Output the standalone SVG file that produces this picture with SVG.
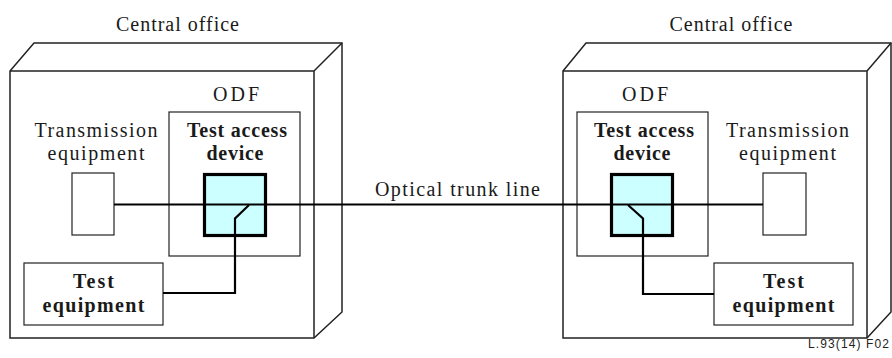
<svg xmlns="http://www.w3.org/2000/svg" width="892" height="358" viewBox="0 0 892 358">
<style>
text{font-family:"Liberation Serif","Times New Roman",serif;font-size:20px;fill:#1a1a1a;text-anchor:middle}
.b{font-weight:bold}
.cube{fill:#fff;stroke:#222;stroke-width:1.5}
.box{fill:#fff;stroke:#222;stroke-width:1.2}
.tad{fill:#ccffff;stroke:#000;stroke-width:3.2}
.wire{fill:none;stroke:#000;stroke-width:2.2}
text.note{font-family:"Liberation Sans",Arial,sans-serif;font-size:12px;text-anchor:end;fill:#222}
</style>
<rect width="892" height="358" fill="#fff"/>
<g id="left-office">
<path class="cube" d="M10,71 L34,43 L342,43 L342,312 L314,338 L10,338 Z"/>
<path fill="none" stroke="#222" stroke-width="1.5" d="M10,71 H314 V338 M314,71 L342,43"/>
<text x="177.5" y="31" textLength="123" lengthAdjust="spacing">Central office</text>
</g>
<g id="right-office">
<path class="cube" d="M563,71 L586,43 L891,43 L891,312 L867,338 L563,338 Z"/>
<path fill="none" stroke="#222" stroke-width="1.5" d="M563,71 H867 V338 M867,71 L891,43"/>
<text x="731" y="31" textLength="123" lengthAdjust="spacing">Central office</text>
</g>
<g id="left-odf">
<rect class="box" x="169" y="112" width="131" height="144"/>
<text x="236" y="101" textLength="46" lengthAdjust="spacing">ODF</text>
</g>
<g id="right-odf">
<rect class="box" x="577" y="112" width="131" height="144"/>
<text x="645" y="101" textLength="46" lengthAdjust="spacing">ODF</text>
</g>
<g id="left-tx">
<text x="96" y="137" textLength="123" lengthAdjust="spacing">Transmission</text>
<text x="96" y="160" textLength="97" lengthAdjust="spacing">equipment</text>
<rect class="box" x="72" y="173" width="42" height="62"/>
</g>
<g id="right-tx">
<text x="787.5" y="137" textLength="123" lengthAdjust="spacing">Transmission</text>
<text x="787.5" y="160" textLength="97" lengthAdjust="spacing">equipment</text>
<rect class="box" x="763" y="173" width="43" height="62"/>
</g>
<g id="left-tad">
<text class="b" x="237" y="137" textLength="100" lengthAdjust="spacing">Test access</text>
<text class="b" x="235" y="160" textLength="57" lengthAdjust="spacing">device</text>
<rect class="tad" x="204.5" y="174.5" width="61" height="61"/>
</g>
<g id="right-tad">
<text class="b" x="644" y="137" textLength="100" lengthAdjust="spacing">Test access</text>
<text class="b" x="642" y="160" textLength="57" lengthAdjust="spacing">device</text>
<rect class="tad" x="611.5" y="174.5" width="61" height="61"/>
</g>
<g id="left-test">
<rect class="box" x="24" y="263" width="139" height="62"/>
<text class="b" x="93.5" y="288" textLength="41" lengthAdjust="spacing">Test</text>
<text class="b" x="93.5" y="312" textLength="102" lengthAdjust="spacing">equipment</text>
</g>
<g id="right-test">
<rect class="box" x="714" y="263" width="139" height="62"/>
<text class="b" x="783.5" y="288" textLength="41" lengthAdjust="spacing">Test</text>
<text class="b" x="783.5" y="312" textLength="102" lengthAdjust="spacing">equipment</text>
</g>
<g id="connectors">
<line class="wire" x1="114" y1="204.5" x2="763" y2="204.5"/>
<polyline class="wire" points="249,205 235,218.5 235,293 163,293"/>
<polyline class="wire" points="628,205 643,218.5 643,294 714,294"/>
<text x="457.5" y="196" textLength="165" lengthAdjust="spacing">Optical trunk line</text>
</g>
<text class="note" x="889" y="348" textLength="81" lengthAdjust="spacing">L.93(14)  F02</text>
</svg>
